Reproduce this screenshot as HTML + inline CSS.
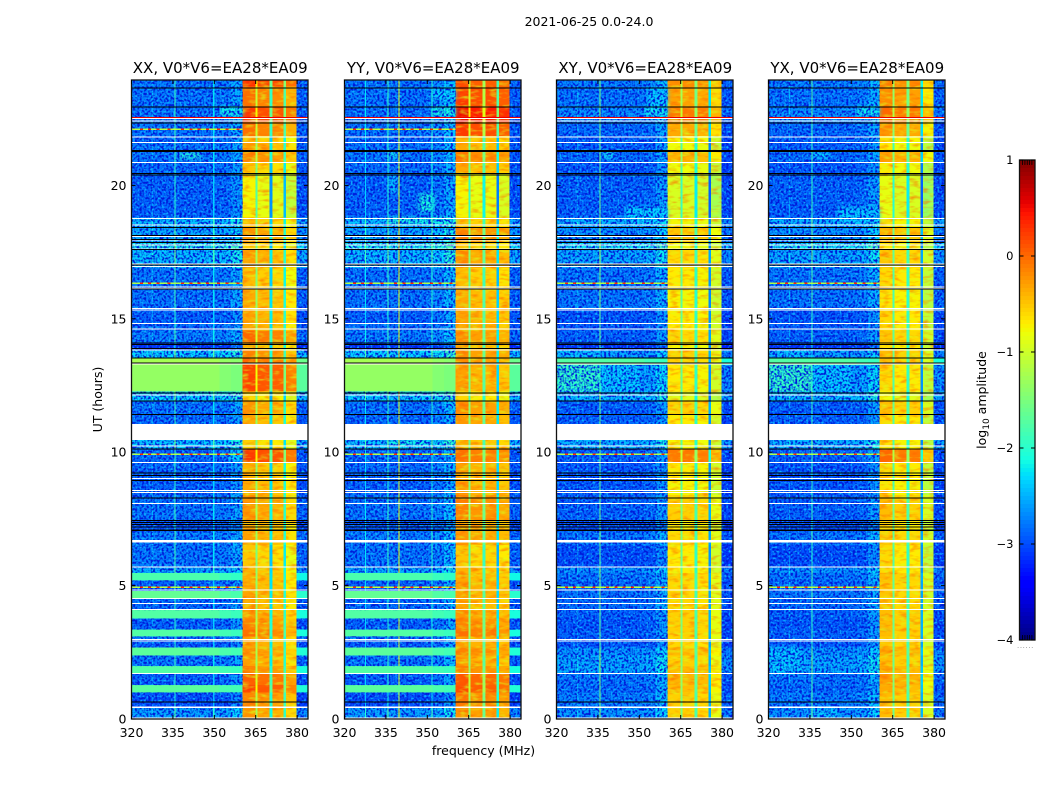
<!DOCTYPE html>
<html lang="en">
<head>
<meta charset="utf-8">
<title>2021-06-25 0.0-24.0 spectrograms</title>
<style>
html,body{margin:0;padding:0;background:#fff;width:1050px;height:800px;overflow:hidden}
svg{display:block}
text{font-family:"DejaVu Sans","Liberation Sans",sans-serif;fill:#000}
.tick{font-size:12.5px}
.title{font-size:15px;text-anchor:middle}
.lab{font-size:12.5px;text-anchor:middle}
</style>
</head>
<body>
<svg id="chart" xmlns="http://www.w3.org/2000/svg" width="1050" height="800" viewBox="0 0 1050 800">
  <defs>
    <filter id="speck" x="0" y="0" width="100%" height="100%" color-interpolation-filters="sRGB">
      <feTurbulence type="fractalNoise" baseFrequency="0.45" numOctaves="1" seed="4" result="n"/>
      <feColorMatrix in="n" type="matrix" values="0 0 0 0 0  0 0 0 0 0.1  0 0 0 0 0.85  5 0 0 0 -2.2" result="dark"/>
      <feColorMatrix in="n" type="matrix" values="0 0 0 0 0.05  0 0 0 0 0.7  0 0 0 0 1  0 5 0 0 -2.75" result="light"/>
      <feMerge result="m"><feMergeNode in="dark"/><feMergeNode in="light"/></feMerge>
      <feComposite in="m" in2="SourceAlpha" operator="in"/>
    </filter>
    <filter id="fringe" x="0" y="0" width="100%" height="100%" color-interpolation-filters="sRGB">
      <feTurbulence type="fractalNoise" baseFrequency="0.1 0.28" numOctaves="2" seed="9" result="n"/>
      <feColorMatrix in="n" type="matrix" values="0 0 0 0 1  0 0 0 0 0.4  0 0 0 0 0  1.7 0 0 0 -0.8" result="hot"/>
      <feColorMatrix in="n" type="matrix" values="0 0 0 0 0.85  0 0 0 0 1  0 0 0 0 0.1  0 1.9 0 0 -0.95" result="cool"/>
      <feMerge result="m"><feMergeNode in="hot"/><feMergeNode in="cool"/></feMerge>
      <feComposite in="m" in2="SourceAlpha" operator="in"/>
    </filter>
    <filter id="soften" x="-10%" y="-10%" width="120%" height="120%">
      <feGaussianBlur stdDeviation="2.2"/>
    </filter>
  </defs>
  <text class="lab" x="589" y="26">2021-06-25 0.0-24.0</text>
  <text class="lab" x="483.5" y="755">frequency (MHz)</text>
  <text class="lab" transform="translate(102,399.5) rotate(-90)">UT (hours)</text>
  <text class="lab" transform="translate(986,400) rotate(-90)">log<tspan dy="3" font-size="9">10</tspan><tspan dy="-3"> amplitude</tspan></text>
  <text x="1017" y="648" style="font-size:7px;fill:#888;letter-spacing:0.6px">......</text>
  <g id="panels"></g>
  <g id="colorbar"></g>
</svg>
<script>
// ---- figure data ----
const panelNames = ['XX', 'YY', 'XY', 'YX'];
const xTicks = [320, 335, 350, 365, 380];
const yTicks = [0, 5, 10, 15, 20];
const colorbarTicks = [1, 0, -1, -2, -3, -4];
const colorbarEdgeTicks = [0.2, 0.35, 0.5, 0.65, 0.8];
const freqEdges = [320,327.4,327.8,335.6,336,339.5,339.9,349.6,350,351.5,351.9,356,360.3,365,365.7,370,371,375,376,379.8,383.95];
// 0 = background channel, 1 = strong band, 2 = gap between strong bands, 3 = narrow background line
const columnKind = [0,3,0,3,0,3,0,3,0,3,0,0,1,2,1,2,1,2,1,0];
const columnOffsetXX = [0,.3,0,.85,0,0,0,.5,0,0,.05,.25,.2,-.8,.1,-1.7,.05,-1.5,-.15,-.1];
const columnOffsetYY = [0,.5,0,.8,0,1.9,0,0,0,.7,.1,.35,.2,-1,.1,-1.2,.1,-1.8,0,-.1];
const columnOffsetXY = [0,.3,0,1.2,0,0,0,0,0,0,.05,.3,.05,-.9,.05,-1.2,0,-1.9,-.25,-.15];
const columnOffsetYX = [0,.3,0,.9,0,0,0,0,0,0,.05,.3,.15,-1,.05,-1.2,.05,-1.9,-.35,-.1];
const flatColumnOffset = [0,0,0,0,0,0,0,0,0,0,-.1,-.15,0,0,0,0,0,0,0,-.35];
// time bands, upper edge in UT hours
const bandTop = [.43,1,1.27,1.7,1.98,2.38,2.68,2.9,3.1,3.35,3.77,4.08,4.52,4.8,5.2,5.48,5.7,6.52,7.02,7.46,8.4,9,9.62,10.1,10.45,11.06,11.4,11.93,12.27,13.27,13.55,13.83,14.12,14.56,14.85,15.35,16.13,16.9,17.6,17.85,18.4,18.8,20.45,20.88,21.3,21.62,21.85,22.38,22.95,23.7,24];
const bgParallel = [-2.55,-2.95,-1.7,-2.85,-1.75,-2.75,-1.7,-2.9,-2.8,-1.75,-2.85,-1.75,-2.8,-1.65,-2.85,-1.8,-2.5,-2.75,-2.7,-2.9,-2.75,-2.85,-2.8,-2.8,-2.35,-2.8,-2.8,-2.75,-2.3,-1.35,-1.25,-2.3,-3.1,-2.7,-2.8,-2.85,-2.75,-2.75,-2.4,-2.15,-2.5,-2.4,-2.85,-2.8,-2.75,-2.75,-2.8,-2.75,-2.75,-2.75,-2.75];
const bgCross = [-2.6,-2.7,-2.8,-2.75,-2.5,-2.5,-2.6,-2.9,-2.9,-2.85,-2.9,-2.85,-2.8,-2.75,-2.8,-2.75,-2.6,-2.95,-2.75,-2.95,-2.85,-2.9,-2.9,-2.85,-2.45,-2.85,-2.85,-2.85,-2.4,-2.55,-1.75,-2.6,-3.1,-2.85,-2.9,-2.9,-2.75,-2.75,-2.5,-2.2,-2.6,-2.45,-2.85,-2.9,-2.8,-2.85,-2.85,-2.8,-2.65,-2.75,-2.7];
const flatParallel = [0,0,1,0,1,0,1,0,0,1,0,1,0,1,0,1,0,0,0,0,0,0,0,0,0,0,0,0,0,1,1,0,0,0,0,0,0,0,0,0,0,0,0,0,0,0,0,0,0,0,0];
const flatCross = [0,0,0,0,0,0,0,0,0,0,0,0,0,0,0,0,0,0,0,0,0,0,0,0,0,0,0,0,0,0,1,0,0,0,0,0,0,0,0,0,0,0,0,0,0,0,0,0,0,0,0];
const leftLiftCross = [0,0,0,0,0,0,0,0,0,0,0,0,0,0,0,0,0,0,0,0,0,0,0,0,0,0,0,0,0,.6,0,.2,0,0,0,0,0,0,0,0,0,0,0,0,0,0,0,0,0,0,0];
const blockXX = [-.45,-.35,0,-.15,-.35,-.5,-.4,-.5,-.5,-.25,-.35,-.45,-.55,-.5,-.55,-.55,-.6,-.7,-.5,-.55,-.45,-.55,-.6,.05,-.75,-.7,-.55,-.45,-.8,0,-.2,-.35,-.6,-.2,-.55,-.5,-.55,-.65,-.5,-.75,-.45,-.65,-.95,-.7,-.35,-.5,-.65,-.25,.05,-.25,.1];
const blockYY = [-.4,-.3,-.05,-.1,-.35,-.5,-.35,-.5,-.5,-.25,-.35,-.45,-.55,-.5,-.5,-.55,-.6,-.7,-.45,-.5,-.35,-.5,-.5,-.25,-.6,-.7,-.45,-.4,-.8,-.5,-.4,-.4,-.55,-.4,-.55,-.5,-.55,-.65,-.45,-.7,-.35,-.65,-.95,-.55,-.3,-.55,-.6,.05,.32,.05,-.05];
const blockCross = [-.6,-.6,-.5,-.45,-.5,-.6,-.5,-.65,-.65,-.6,-.6,-.6,-.65,-.65,-.65,-.6,-.75,-.75,-.65,-.75,-.6,-.8,-.75,-.15,-.8,-.7,-.75,-.6,-.95,-.75,-.6,-.6,-.8,-.65,-.75,-.75,-.8,-.75,-.65,-.85,-.55,-.8,-1,-.85,-.45,-.85,-.8,-.4,-.15,-.35,-.25];
// flagged-out intervals in UT hours
const whiteStart = [0,.41,1.69,2.91,2.96,4.11,4.32,4.51,4.82,5.68,6.62,8.07,8.48,8.56,9.01,9.61,10.23,10.46,12.12,13.29,13.81,14.6,14.81,15.31,15.38,16.12,16.19,16.94,17.05,17.61,17.76,17.85,17.93,18.07,18.5,18.75,20.85,21.59,21.81,22.39,22.48];
const whiteEnd = [.05,.46,1.72,2.94,2.99,4.13,4.35,4.54,4.85,5.71,6.71,8.1,8.51,8.59,9.04,9.64,10.26,11.06,12.17,13.32,13.85,14.63,14.84,15.34,15.41,16.15,16.22,16.97,17.08,17.64,17.79,17.88,17.97,18.11,18.54,18.78,20.88,21.62,21.84,22.43,22.52];
const blackHours = [.65,7.08,7.1,7.21,7.3,7.39,7.45,8.3,8.96,9.14,9.23,10.14,11.43,11.93,12.24,13.37,13.55,13.9,14.05,14.11,16.14,17.03,17.62,17.87,18,18.14,18.45,20.41,20.47,21.29,21.32,22.35,22.95,23.67];
const redHours = [22.57];
// narrowband interference
const rfiHours = [4.96, 9.96, 16.36, 22.13];
const rfiPanels = [[0,1,2,3],[0,1,2,3],[0,1,2,3],[0,1]];
const rfiLevel = [-1.1,-1.2,-1.2,-1.1];
const rfiFreqs = [323,326,329,333,338,341,344,347,351,354,358];
// soft patches: panel, hour from, hour to, MHz from, MHz to, log amplitude
const patchPanel = [0,0,0,1,1,1,1,1,1,2,2,2,2,3,3,3,3,3,1,2];
const patchHourFrom = [21,22.6,9.65,19,19.7,18.55,21,22.6,23.2,21,18.55,22.6,23,1.7,.05,21,18.55,22.6,10.26,12.3];
const patchHourTo = [21.22,22.95,10.1,19.7,20.4,18.8,21.3,22.95,23.65,21.3,19.2,22.95,23.65,2.7,.4,21.25,19.2,22.95,10.45,12.6];
const patchFreqFrom = [337,352,355,347,336,336,336,352,352,337,345,352,353,320,336,336,345,352,336,320];
const patchFreqTo = [345,360.3,360.3,352.6,339,360.3,339,360.3,360.3,340.5,360.3,360.3,360.3,332,345,342,360.3,360.3,350,336];
const patchLevel = [-2.05,-2.15,-2.3,-2.1,-2.4,-2.1,-2.2,-2.1,-2.3,-2.2,-2.3,-2.2,-2.35,-2.35,-2.35,-2.3,-2.35,-2.2,-2.1,-2];
const colorRange = [-4, 1];

// ---- axis functions ----
const panelLeft = [131.5, 344.5, 556.5, 768.5];
const panelWidth = 176.5, plotTop = 80, plotBottom = 719;
const xMHz = (p, f) => panelLeft[p] + (f - 320) * 2.76;
const yHour = h => Math.max(plotTop, 719 - h * 26.68);
const SVGNS = 'http://www.w3.org/2000/svg';
function lin(t, pts) {
  for (let i = 1; i < pts.length; i++) {
    if (t <= pts[i][0]) {
      const a = pts[i - 1], b = pts[i];
      return a[1] + (b[1] - a[1]) * (t - a[0]) / (b[0] - a[0]);
    }
  }
  return pts[pts.length - 1][1];
}
function jet(v) {
  const t = Math.min(1, Math.max(0, (v - colorRange[0]) / (colorRange[1] - colorRange[0])));
  const r = lin(t, [[0,0],[.35,0],[.66,1],[.89,1],[1,.5]]);
  const g = lin(t, [[0,0],[.125,0],[.375,1],[.64,1],[.91,0],[1,0]]);
  const b = lin(t, [[0,.5],[.11,1],[.34,1],[.65,0],[1,0]]);
  return 'rgb(' + Math.round(r * 255) + ',' + Math.round(g * 255) + ',' + Math.round(b * 255) + ')';
}
function mk(parent, tag, attrs) {
  const el = document.createElementNS(SVGNS, tag);
  for (const k in attrs) el.setAttribute(k, attrs[k]);
  parent.appendChild(el);
  return el;
}
const panelsRoot = document.getElementById('panels');
const chartDefs = document.querySelector('#chart defs');
const columnOffsets = [columnOffsetXX, columnOffsetYY, columnOffsetXY, columnOffsetYX];
const bandBlocks = [blockXX, blockYY, blockCross, blockCross];

function isBand(c) { return columnKind[c] === 1 || columnKind[c] === 2; }
function cellValue(p, b, c) {
  if (isBand(c)) return bandBlocks[p][b] + columnOffsets[p][c];
  const parallel = p < 2;
  const bg = parallel ? bgParallel[b] : bgCross[b];
  const flat = parallel ? flatParallel[b] : flatCross[b];
  if (flat) return bg + flatColumnOffset[c];
  const low = freqEdges[c];
  const lift = parallel ? 0 : (low < 336 ? leftLiftCross[b] : (low < 350 ? leftLiftCross[b] * .35 : 0));
  if (lift > 0) return bg + lift;
  return bg + columnOffsets[p][c];
}

panelNames.forEach((name, p) => {
  const g = mk(panelsRoot, 'g', {});
  
  

  const clip = mk(chartDefs, 'clipPath', { id: 'plot-clip-' + p });
  
  
  const clipBox = mk(clip, 'rect', { x: panelLeft[p], y: plotTop, width: panelWidth, height: plotBottom - plotTop });
  
  

  const heat = mk(g, 'g', { 'shape-rendering': 'crispEdges' });
  
  
  bandTop.forEach((top, b) => {
    const bottom = b === 0 ? 0 : bandTop[b - 1];
    const y0 = yHour(top), y1 = yHour(bottom);
    for (let c = 0; c < columnKind.length; c++) {
      const x0 = xMHz(p, freqEdges[c]), x1 = xMHz(p, freqEdges[c + 1]);
      const cell = mk(heat, 'rect', { x: x0, y: y0, width: x1 - x0, height: y1 - y0, fill: jet(cellValue(p, b, c)) });
      
      
    }
  });

  const patchClip = mk(g, 'g', { 'clip-path': 'url(#plot-clip-' + p + ')' });
  
  
  const patches = mk(patchClip, 'g', { filter: 'url(#soften)' });
  
  
  patchPanel.forEach((pp, i) => {
    if (pp !== p) return;
    const y0 = yHour(patchHourTo[i]), y1 = yHour(patchHourFrom[i]);
    const x0 = xMHz(p, patchFreqFrom[i]), x1 = xMHz(p, patchFreqTo[i]);
    const patch = mk(patches, 'rect', { x: x0, y: y0, width: x1 - x0, height: y1 - y0, fill: jet(patchLevel[i]) });
    
    
  });

  const speck = mk(g, 'g', { filter: 'url(#speck)' });
  
  
  bandTop.forEach((top, b) => {
    const flat = p < 2 ? flatParallel[b] : flatCross[b];
    if (flat) return;
    const bottom = b === 0 ? 0 : bandTop[b - 1];
    const y0 = yHour(top), y1 = yHour(bottom);
    const left = mk(speck, 'rect', { x: xMHz(p, 320), y: y0, width: xMHz(p, 360.3) - xMHz(p, 320), height: y1 - y0, fill: '#000' });
    
    
    const right = mk(speck, 'rect', { x: xMHz(p, 379.8), y: y0, width: xMHz(p, 383.95) - xMHz(p, 379.8), height: y1 - y0, fill: '#000' });
    
    
  });

  const fringe = mk(g, 'g', { filter: 'url(#fringe)' });
  
  
  columnKind.forEach((kind, c) => {
    if (kind !== 1) return;
    const fr = mk(fringe, 'rect', { x: xMHz(p, freqEdges[c]), y: plotTop, width: xMHz(p, freqEdges[c + 1]) - xMHz(p, freqEdges[c]), height: plotBottom - plotTop, fill: '#000' });
    
    
  });

  // narrow channel lines stay continuous above the texture
  const narrow = mk(g, 'g', { 'shape-rendering': 'crispEdges' });
  
  
  bandTop.forEach((top, b) => {
    const flat = p < 2 ? flatParallel[b] : flatCross[b];
    if (flat) return;
    const bottom = b === 0 ? 0 : bandTop[b - 1];
    columnKind.forEach((kind, c) => {
      if (kind !== 3 || columnOffsets[p][c] < .5) return;
      const x0 = xMHz(p, freqEdges[c]), x1 = xMHz(p, freqEdges[c + 1]);
      const seg = mk(narrow, 'rect', { x: x0, y: yHour(top), width: x1 - x0, height: yHour(bottom) - yHour(top), fill: jet(cellValue(p, b, c)) });
      
      
    });
  });

  const rfi = mk(g, 'g', { 'shape-rendering': 'crispEdges' });
  
  
  rfiHours.forEach((h, i) => {
    if (rfiPanels[i].indexOf(p) < 0) return;
    const line = mk(rfi, 'rect', { x: xMHz(p, 320), y: yHour(h), width: xMHz(p, 360.3) - xMHz(p, 320), height: 1.5, fill: jet(rfiLevel[i]) });
    
    
    rfiFreqs.forEach(f => {
      const dot = mk(rfi, 'rect', { x: xMHz(p, f), y: yHour(h), width: 3, height: 1.5, fill: jet(.35) });
      
      
    });
  });

  const flags = mk(g, 'g', { 'shape-rendering': 'crispEdges' });
  
  
  whiteStart.forEach((h, i) => {
    const y0 = yHour(whiteEnd[i]), y1 = yHour(h);
    const w = mk(flags, 'rect', { x: panelLeft[p], y: y0, width: panelWidth, height: Math.max(1, y1 - y0), fill: '#fff' });
    
    
  });
  blackHours.forEach(h => {
    const k = mk(flags, 'rect', { x: panelLeft[p], y: yHour(h), width: panelWidth, height: 1, fill: '#000' });
    
    
  });
  redHours.forEach(h => {
    const red = mk(flags, 'rect', { x: panelLeft[p], y: yHour(h), width: panelWidth, height: 1.4, fill: jet(.55) });
    
    
  });

  const frame = mk(g, 'rect', { x: panelLeft[p], y: plotTop, width: panelWidth, height: plotBottom - plotTop, fill: 'none', stroke: '#111', 'stroke-width': 1.3 });
  
  

  const title = mk(g, 'text', { class: 'title', x: panelLeft[p] + panelWidth / 2 + 0.5, y: 73 });
  title.textContent = name + ', V0*V6=EA28*EA09';
  
  

  xTicks.forEach(f => {
    const x = xMHz(p, f);
    const t1 = mk(g, 'line', { x1: x, x2: x, y1: plotBottom, y2: plotBottom - 4, stroke: '#000', 'stroke-width': 1 });
    
    
    const t2 = mk(g, 'line', { x1: x, x2: x, y1: plotTop, y2: plotTop + 4, stroke: '#000', 'stroke-width': 1 });
    
    
    const lbl = mk(g, 'text', { class: 'tick', x: x, y: 737, 'text-anchor': 'middle' });
    lbl.textContent = f;
    
    
  });
  yTicks.forEach(h => {
    const y = yHour(h);
    const t1 = mk(g, 'line', { x1: panelLeft[p], x2: panelLeft[p] + 4, y1: y, y2: y, stroke: '#000', 'stroke-width': 1 });
    
    
    const t2 = mk(g, 'line', { x1: panelLeft[p] + panelWidth, x2: panelLeft[p] + panelWidth - 4, y1: y, y2: y, stroke: '#000', 'stroke-width': 1 });
    
    
    const lbl = mk(g, 'text', { class: 'tick', x: panelLeft[p] - 5, y: y + 4.5, 'text-anchor': 'end' });
    lbl.textContent = h;
    
    
  });
});

// ---- colorbar ----
const cb = document.getElementById('colorbar');
const cbX = 1019.5, cbW = 15.5, cbTop = 160, cbBottom = 640;
const yColor = v => cbTop + (colorRange[1] - v) / (colorRange[1] - colorRange[0]) * (cbBottom - cbTop);
const colorSteps = 120;
for (let i = 0; i < colorSteps; i++) {
  const v0 = colorRange[1] - (colorRange[1] - colorRange[0]) * i / colorSteps;
  const v1 = colorRange[1] - (colorRange[1] - colorRange[0]) * (i + 1) / colorSteps;
  const sw = mk(cb, 'rect', { x: cbX, y: yColor(v0), width: cbW, height: yColor(v1) - yColor(v0) + .5, fill: jet((v0 + v1) / 2), 'shape-rendering': 'crispEdges' });
  
  
}
const cbFrame = mk(cb, 'rect', { x: cbX, y: cbTop, width: cbW, height: cbBottom - cbTop, fill: 'none', stroke: '#111', 'stroke-width': 1.3 });


colorbarEdgeTicks.forEach(frac => {
  const x = cbX + frac * cbW;
  const top = mk(cb, 'line', { x1: x, x2: x, y1: cbTop, y2: cbTop + 5, stroke: '#000', 'stroke-width': .8 });
  
  
  const bot = mk(cb, 'line', { x1: x, x2: x, y1: cbBottom, y2: cbBottom - 5, stroke: '#000', 'stroke-width': .8 });
  
  
});
colorbarTicks.forEach(v => {
  const y = yColor(v);
  const a = mk(cb, 'line', { x1: cbX, x2: cbX + 4, y1: y, y2: y, stroke: '#000', 'stroke-width': 1 });
  
  
  const b = mk(cb, 'line', { x1: cbX + cbW, x2: cbX + cbW - 4, y1: y, y2: y, stroke: '#000', 'stroke-width': 1 });
  
  
  const lbl = mk(cb, 'text', { class: 'tick', x: cbX - 6, y: y + 4, 'text-anchor': 'end', style: 'font-size:11.5px' });
  lbl.textContent = String(v).replace('-', '\u2212');
  
  
});
</script>
</body>
</html>
